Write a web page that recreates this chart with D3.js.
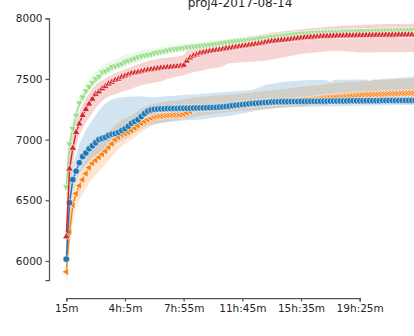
<!DOCTYPE html>
<html>
<head>
<meta charset="utf-8">
<script src="https://cdn.jsdelivr.net/npm/d3@7"></script>
<style>
  body { margin: 0; background: #fff; }
  svg { display: block; }
  .axis text { fill: #262626; }
  .axis path, .axis line { stroke: #555; stroke-width: 1.25; }
</style>
</head>
<body>
<div id="chart"></div>
<script>
var width = 414;
var height = 336;

// x tick labels, one every 18 samples
var tickIndex = [0, 18, 36, 54, 72, 90];
var tickLabels = ["15m", "4h:5m", "7h:55m", "11h:45m", "15h:35m", "19h:25m"];
var yTicks = [6000, 6500, 7000, 7500, 8000];

// green series (triangle down)
var greenMean = [
  6610, 6965, 7090, 7200, 7300, 7350, 7400, 7435, 7470, 7500,
  7520, 7555, 7565, 7580, 7600, 7605, 7615, 7625, 7640, 7650,
  7660, 7670, 7680, 7688, 7695, 7700, 7705, 7715, 7720, 7725,
  7730, 7737, 7743, 7747, 7750, 7754, 7758, 7762, 7765, 7768,
  7771, 7774, 7777, 7780, 7783, 7786, 7790, 7794, 7798, 7802,
  7806, 7810, 7813, 7816, 7818, 7820, 7823, 7826, 7829, 7833,
  7838, 7842, 7845, 7848, 7851, 7854, 7857, 7860, 7863, 7866,
  7870, 7873, 7875, 7877, 7879, 7881, 7883, 7884, 7885, 7886,
  7887, 7888, 7889, 7890, 7891, 7892, 7893, 7893, 7894, 7895,
  7896, 7897, 7897, 7898, 7899, 7900, 7900, 7901, 7902, 7902,
  7903, 7903, 7904, 7904, 7905, 7905, 7906, 7906
];
var greenLo = [
  6450, 6880, 7030, 7150, 7250, 7310, 7360, 7395, 7430, 7460,
  7480, 7510, 7525, 7540, 7555, 7565, 7575, 7585, 7598, 7610,
  7620, 7630, 7640, 7650, 7658, 7665, 7672, 7680, 7686, 7692,
  7698, 7704, 7710, 7715, 7720, 7724, 7728, 7732, 7736, 7740,
  7743, 7746, 7750, 7753, 7756, 7760, 7763, 7767, 7771, 7775,
  7779, 7783, 7787, 7790, 7793, 7796, 7799, 7802, 7805, 7808,
  7812, 7816, 7820, 7823, 7826, 7829, 7832, 7835, 7838, 7841,
  7845, 7848, 7850, 7852, 7854, 7856, 7858, 7860, 7861, 7862,
  7863, 7864, 7865, 7866, 7867, 7868, 7869, 7870, 7870, 7871,
  7872, 7873, 7874, 7874, 7875, 7876, 7876, 7877, 7878, 7878,
  7879, 7879, 7880, 7880, 7881, 7881, 7882, 7882
];
var greenHi = [
  6760, 7050, 7160, 7260, 7360, 7410, 7460, 7500, 7535, 7565,
  7585, 7610, 7625, 7640, 7655, 7665, 7675, 7685, 7695, 7705,
  7712, 7720, 7728, 7735, 7740, 7745, 7750, 7755, 7760, 7765,
  7770, 7775, 7778, 7781, 7784, 7787, 7790, 7793, 7795, 7797,
  7799, 7802, 7805, 7808, 7811, 7814, 7817, 7820, 7824, 7828,
  7832, 7836, 7839, 7842, 7844, 7846, 7849, 7852, 7855, 7858,
  7862, 7866, 7870, 7873, 7876, 7879, 7882, 7885, 7888, 7891,
  7895, 7898, 7900, 7902, 7904, 7906, 7908, 7909, 7910, 7911,
  7912, 7913, 7914, 7915, 7916, 7917, 7918, 7919, 7920, 7921,
  7922, 7923, 7924, 7924, 7925, 7926, 7926, 7927, 7928, 7928,
  7929, 7929, 7930, 7930, 7931, 7931, 7932, 7932
];

// red series (triangle up)
var redMean = [
  6200, 6760, 6930, 7060, 7130, 7200, 7250, 7295, 7335, 7375,
  7395, 7420, 7440, 7460, 7475, 7490, 7500, 7515, 7525, 7535,
  7545, 7550, 7555, 7560, 7568, 7574, 7578, 7582, 7586, 7590,
  7593, 7596, 7598, 7600, 7603, 7606, 7615, 7650, 7675, 7690,
  7700, 7712, 7718, 7722, 7728, 7732, 7736, 7740, 7745, 7750,
  7753, 7758, 7762, 7766, 7770, 7774, 7778, 7782, 7786, 7790,
  7794, 7800, 7806, 7810, 7813, 7816, 7818, 7820, 7823, 7826,
  7830, 7834, 7837, 7840, 7842, 7844, 7846, 7848, 7850, 7851,
  7852, 7853, 7854, 7855, 7856, 7856, 7857, 7857, 7858, 7858,
  7859, 7859, 7860, 7860, 7860, 7861, 7861, 7861, 7862, 7862,
  7862, 7862, 7863, 7863, 7863, 7863, 7864, 7864
];
var redLo = [
  6050, 6550, 6800, 6950, 7030, 7090, 7140, 7180, 7220, 7260,
  7290, 7320, 7340, 7355, 7365, 7375, 7385, 7395, 7400, 7410,
  7420, 7430, 7440, 7448, 7455, 7460, 7465, 7470, 7475, 7480,
  7490, 7500, 7505, 7512, 7520, 7525, 7530, 7540, 7550, 7555,
  7560, 7565, 7570, 7578, 7585, 7588, 7590, 7595, 7605, 7620,
  7630, 7632, 7634, 7636, 7638, 7640, 7640, 7642, 7644, 7646,
  7648, 7650, 7655, 7660, 7665, 7670, 7675, 7680, 7685, 7690,
  7695, 7700, 7705, 7710, 7712, 7715, 7718, 7720, 7722, 7725,
  7728, 7730, 7732, 7732, 7730, 7728, 7726, 7724, 7722, 7720,
  7718, 7718, 7718, 7718, 7718, 7720, 7720, 7720, 7720, 7720,
  7720, 7720, 7720, 7720, 7720, 7722, 7722, 7722
];
var redHi = [
  6350, 6950, 7050, 7170, 7230, 7290, 7340, 7380, 7420, 7450,
  7470, 7490, 7505, 7520, 7535, 7550, 7560, 7570, 7580, 7590,
  7600, 7610, 7620, 7630, 7640, 7650, 7655, 7660, 7665, 7670,
  7672, 7675, 7678, 7680, 7685, 7690, 7700, 7730, 7750, 7760,
  7770, 7778, 7784, 7790, 7795, 7800, 7805, 7810, 7815, 7820,
  7825, 7830, 7834, 7838, 7842, 7846, 7850, 7854, 7858, 7862,
  7866, 7870, 7875, 7880, 7885, 7888, 7892, 7895, 7898, 7900,
  7903, 7906, 7909, 7912, 7915, 7918, 7920, 7922, 7925, 7927,
  7930, 7932, 7934, 7936, 7938, 7940, 7941, 7942, 7943, 7944,
  7945, 7946, 7947, 7948, 7949, 7950, 7950, 7951, 7952, 7952,
  7953, 7953, 7954, 7954, 7955, 7955, 7956, 7956
];

// blue series (circles)
var blueMean = [
  6015, 6480, 6670, 6740, 6810, 6860, 6890, 6925, 6950, 6975,
  7000, 7010, 7020, 7035, 7045, 7050, 7060, 7075, 7090, 7110,
  7135, 7150, 7165, 7190, 7215, 7235, 7245, 7250, 7252, 7254,
  7255, 7256, 7256, 7257, 7257, 7258, 7258, 7259, 7259, 7260,
  7260, 7261, 7262, 7263, 7264, 7265, 7266, 7268, 7270, 7273,
  7276, 7280, 7283, 7286, 7289, 7292, 7295, 7298, 7300, 7302,
  7304, 7306, 7308, 7310, 7311, 7312, 7313, 7313, 7313, 7314,
  7314, 7314, 7315, 7315, 7315, 7316, 7316, 7316, 7317, 7317,
  7317, 7318, 7318, 7318, 7319, 7319, 7319, 7320, 7320, 7320,
  7320, 7320, 7321, 7321, 7321, 7321, 7321, 7322, 7322, 7322,
  7322, 7322, 7322, 7323, 7323, 7323, 7323, 7323
];
var blueLo = [
  5800, 6350, 6560, 6650, 6720, 6760, 6790, 6820, 6850, 6870,
  6890, 6905, 6920, 6935, 6950, 6960, 6975, 6990, 7005, 7020,
  7040, 7055, 7070, 7090, 7105, 7115, 7125, 7130, 7135, 7140,
  7142, 7145, 7148, 7150, 7152, 7155, 7158, 7160, 7162, 7162,
  7163, 7165, 7168, 7172, 7176, 7180, 7184, 7187, 7190, 7192,
  7195, 7200, 7205, 7210, 7215, 7220, 7225, 7230, 7235, 7240,
  7245, 7248, 7252, 7255, 7258, 7260, 7262, 7264, 7265, 7266,
  7267, 7268, 7269, 7270, 7270, 7271, 7272, 7272, 7273, 7273,
  7274, 7274, 7275, 7275, 7276, 7276, 7277, 7277, 7278, 7278,
  7279, 7279, 7280, 7280, 7281, 7281, 7282, 7282, 7283, 7283,
  7284, 7284, 7285, 7285, 7286, 7286, 7286, 7286
];
var blueHi = [
  6150, 6620, 6800, 6880, 6960, 7020, 7080, 7120, 7160, 7200,
  7240, 7270, 7295, 7315, 7330, 7340, 7345, 7350, 7352, 7354,
  7355, 7356, 7357, 7356, 7354, 7352, 7350, 7350, 7352, 7354,
  7356, 7358, 7360, 7362, 7364, 7366, 7368, 7370, 7371, 7372,
  7374, 7376, 7378, 7380, 7382, 7384, 7386, 7388, 7390, 7392,
  7394, 7396, 7398, 7400, 7402, 7404, 7406, 7410, 7420, 7430,
  7440, 7450, 7455, 7460, 7465, 7470, 7474, 7478, 7480, 7482,
  7484, 7486, 7488, 7490, 7490, 7491, 7491, 7492, 7492, 7492,
  7490, 7475, 7492, 7493, 7493, 7494, 7494, 7494, 7495, 7495,
  7495, 7495, 7495, 7480, 7495, 7496, 7498, 7500, 7502, 7504,
  7506, 7508, 7510, 7512, 7514, 7516, 7518, 7520
];

// orange series (triangle left)
var orangeMean = [
  5910, 6240, 6460, 6555, 6620, 6670, 6720, 6770, 6805, 6830,
  6855, 6880, 6905, 6935, 6965, 7000, 7020, 7040, 7050, 7060,
  7075, 7095, 7115, 7135, 7150, 7165, 7178, 7188, 7192, 7195,
  7198, 7200, 7202, 7203, 7204, 7206, 7212, 7222, 7234, 7248,
  7258, 7260, 7261, 7262, 7263, 7264, 7265, 7267, 7269, 7272,
  7275, 7279, 7282, 7285, 7288, 7291, 7294, 7297, 7300, 7302,
  7304, 7306, 7308, 7310, 7311, 7312, 7313, 7314, 7315, 7317,
  7319, 7321, 7323, 7326, 7329, 7332, 7335, 7338, 7341, 7344,
  7347, 7350, 7352, 7354, 7356, 7358, 7360, 7362, 7364, 7366,
  7368, 7370, 7371, 7372, 7373, 7374, 7375, 7376, 7377, 7378,
  7379, 7380, 7381, 7382, 7383, 7384, 7385, 7386
];
var orangeLo = [
  5800, 6100, 6330, 6440, 6500, 6550, 6600, 6640, 6680, 6710,
  6740, 6770, 6800, 6830, 6860, 6890, 6920, 6945, 6965, 6985,
  7000, 7020, 7040, 7060, 7080, 7095, 7110, 7120, 7128, 7135,
  7140, 7145, 7150, 7155, 7160, 7165, 7170, 7175, 7180, 7185,
  7190, 7195, 7200, 7205, 7208, 7211, 7214, 7217, 7220, 7223,
  7226, 7229, 7232, 7235, 7238, 7240, 7242, 7244, 7246, 7248,
  7250, 7252, 7254, 7256, 7258, 7260, 7262, 7264, 7266, 7268,
  7270, 7272, 7274, 7276, 7279, 7282, 7285, 7288, 7291, 7294,
  7297, 7300, 7303, 7305, 7307, 7309, 7311, 7313, 7315, 7317,
  7319, 7320, 7321, 7322, 7323, 7324, 7325, 7326, 7327, 7328,
  7329, 7330, 7331, 7332, 7333, 7334, 7335, 7336
];
var orangeHi = [
  6010, 6380, 6560, 6660, 6730, 6790, 6840, 6890, 6930, 6960,
  6990, 7020, 7045, 7070, 7095, 7120, 7140, 7160, 7175, 7185,
  7200, 7215, 7235, 7255, 7270, 7280, 7288, 7295, 7300, 7305,
  7310, 7315, 7318, 7320, 7322, 7325, 7330, 7335, 7340, 7345,
  7350, 7352, 7355, 7358, 7360, 7362, 7364, 7366, 7368, 7370,
  7372, 7374, 7376, 7378, 7380, 7383, 7386, 7389, 7392, 7395,
  7398, 7401, 7404, 7407, 7410, 7413, 7416, 7419, 7422, 7425,
  7428, 7431, 7434, 7437, 7440, 7443, 7446, 7449, 7452, 7455,
  7458, 7461, 7464, 7467, 7470, 7472, 7474, 7476, 7478, 7480,
  7482, 7484, 7486, 7488, 7490, 7491, 7492, 7493, 7494, 7495,
  7496, 7497, 7498, 7499, 7500, 7501, 7502, 7503
];

// draw order: orange, blue, green, red
var series = [
  { name: "orange", color: "#ff7f0e", mean: orangeMean, lo: orangeLo, hi: orangeHi, shape: d3.symbolTriangle, rot: -90, size: 24 },
  { name: "blue", color: "#1f77b4", mean: blueMean, lo: blueLo, hi: blueHi, shape: d3.symbolCircle, rot: 0, size: 34 },
  { name: "green", color: "#98df8a", mean: greenMean, lo: greenLo, hi: greenHi, shape: d3.symbolTriangle, rot: 180, size: 24 },
  { name: "red", color: "#d62728", mean: redMean, lo: redLo, hi: redHi, shape: d3.symbolTriangle, rot: 0, size: 24 }
];

var svg = d3.select("#chart")
  .append("svg")
  .attr("width", width)
  .attr("height", height);

// x: sample index, axis trimmed to first/last tick
var x_Scale = d3.scaleLinear()
  .domain([0, 90])
  .range([66.3, 359.7]);

var y_Scale = d3.scaleLinear()
  .domain([5843, 8000])
  .range([280, 18.3]);

// bands first (they sit under every line)
var area = d3.area()
  .x(function (d) { return x_Scale(d.i); })
  .y0(function (d) { return y_Scale(d.lo); })
  .y1(function (d) { return y_Scale(d.hi); });

series.forEach(function (s) {
  var rows = s.mean.map(function (v, i) {
    return { i: i, lo: s.lo[i], hi: s.hi[i] };
  });
  svg.append("path")
    .datum(rows)
    .attr("d", area)
    .attr("fill", s.color)
    .attr("fill-opacity", 0.2)
    .attr("stroke", "none");
});

var line = d3.line()
  .x(function (d, i) { return x_Scale(i); })
  .y(function (d) { return y_Scale(d); });

series.forEach(function (s) {
  var g = svg.append("g").attr("class", "series " + s.name);

  g.append("path")
    .datum(s.mean)
    .attr("d", line)
    .attr("fill", "none")
    .attr("stroke", s.color)
    .attr("stroke-width", 1.5);

  var sym = d3.symbol().type(s.shape).size(s.size);
  g.selectAll("path.marker")
    .data(s.mean)
    .enter()
    .append("path")
    .attr("class", "marker")
    .attr("d", sym)
    .attr("transform", function (d, i) {
      return "translate(" + x_Scale(i) + "," + y_Scale(d) + ") rotate(" + s.rot + ")";
    })
    .attr("fill", s.color)
    .attr("stroke", "#fff")
    .attr("stroke-width", 0.6);
});

// axes
var xAxis = d3.axisBottom(x_Scale)
  .tickValues(tickIndex)
  .tickFormat(function (d, i) { return tickLabels[i]; })
  .tickSizeOuter(0)
  .tickSize(3.5)
  .tickPadding(3);

svg.append("g")
  .attr("class", "axis x")
  .attr("transform", "translate(0,298)")
  .call(xAxis)
  .attr("font-family", "DejaVu Sans")
  .attr("font-size", 10.5);

var yAxis = d3.axisLeft(y_Scale)
  .tickValues(yTicks)
  .tickFormat(d3.format("d"))
  .tickSizeOuter(0)
  .tickSize(3.5)
  .tickPadding(3);

svg.append("g")
  .attr("class", "axis y")
  .attr("transform", "translate(49,0)")
  .call(yAxis)
  .attr("font-family", "DejaVu Sans")
  .attr("font-size", 10.5);

// title
svg.append("text")
  .attr("x", 240)
  .attr("y", 6.5)
  .attr("text-anchor", "middle")
  .attr("font-family", "DejaVu Sans")
  .attr("font-size", 12)
  .attr("fill", "#262626")
  .text("proj4-2017-08-14");
</script>
</body>
</html>
